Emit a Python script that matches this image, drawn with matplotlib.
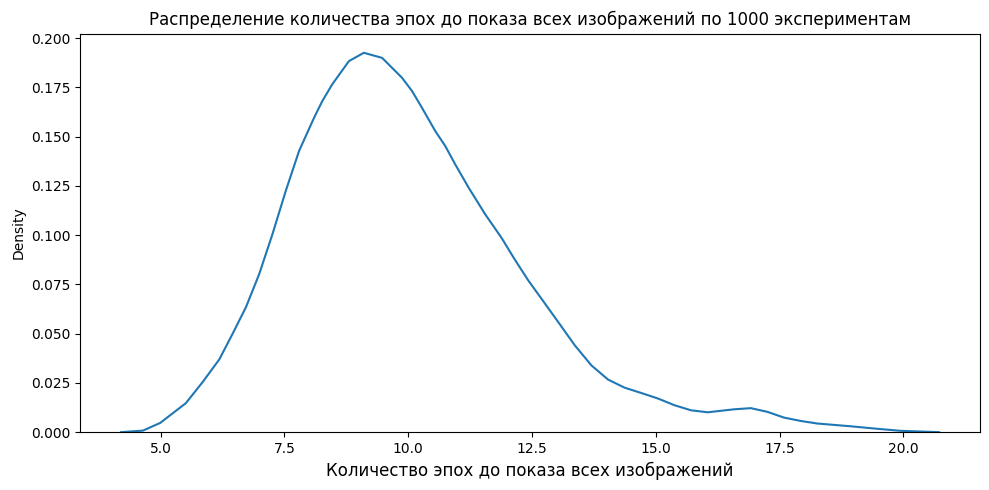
import numpy as np
import matplotlib.pyplot as plt

# KDE curve (epochs -> density)
epochs = [4.201, 4.644, 4.992, 5.509, 5.851, 6.187, 6.455, 6.723, 6.992, 7.260,
          7.528, 7.797, 8.099, 8.266, 8.467, 8.804, 9.105, 9.474, 9.876, 10.077,
          10.278, 10.546, 10.748, 10.949, 11.219, 11.553, 11.889, 12.156, 12.426,
          12.693, 13.030, 13.364, 13.700, 14.036, 14.370, 14.706, 15.042, 15.376,
          15.712, 16.048, 16.578, 16.920, 17.256, 17.590, 17.926, 18.262, 18.932,
          19.395, 19.938, 20.723]
density = [0.0, 0.0008, 0.0047, 0.0147, 0.0255, 0.037, 0.050, 0.0634, 0.0803, 0.1006,
           0.1225, 0.1428, 0.1596, 0.1681, 0.1766, 0.1884, 0.1926, 0.190, 0.1799, 0.1732,
           0.1647, 0.1529, 0.1453, 0.1360, 0.1242, 0.1107, 0.0985, 0.0875, 0.077,
           0.0677, 0.0559, 0.0441, 0.0339, 0.0267, 0.0226, 0.0199, 0.0171, 0.0137,
           0.0111, 0.0101, 0.0116, 0.0122, 0.0103, 0.0074, 0.0057, 0.0044, 0.0030,
           0.0019, 0.0007, 0.0]

fig, ax = plt.subplots(figsize=(9.89, 4.9), dpi=100)
ax.plot(epochs, density, color='#1f77b4', lw=1.5)
ax.set_ylim(bottom=0)
ax.set_xticks([5.0, 7.5, 10.0, 12.5, 15.0, 17.5, 20.0])
ax.set_title('Распределение количества эпох до показа всех изображений по 1000 экспериментам')
ax.set_xlabel('Количество эпох до показа всех изображений', fontsize=12)
ax.set_ylabel('Density')
fig.subplots_adjust(left=0.081, right=0.991, top=0.931, bottom=0.118)
plt.savefig('out.png')
